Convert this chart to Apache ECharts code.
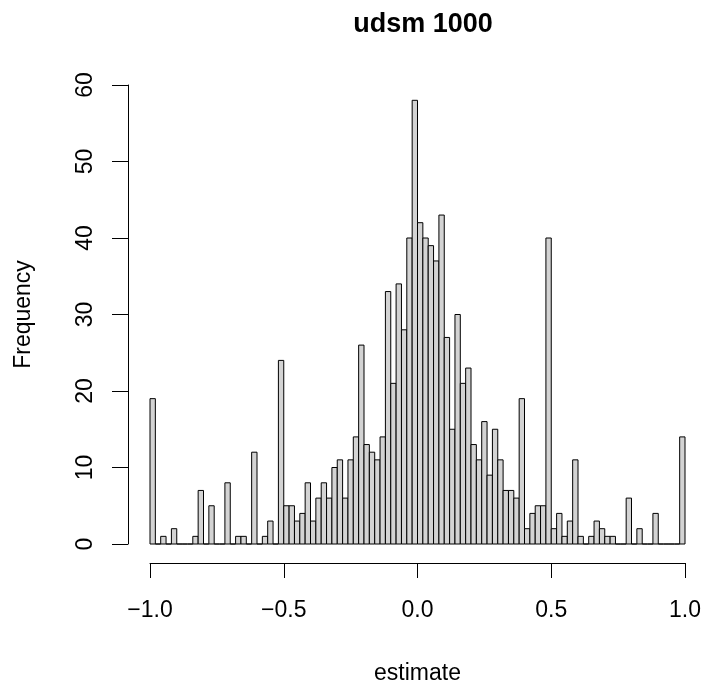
<!DOCTYPE html>
<html>
<head>
<meta charset="utf-8">
<script src="https://cdn.jsdelivr.net/npm/echarts@6/dist/echarts.min.js"></script>
<style>html,body{margin:0;padding:0;background:#fff}#c{width:704px;height:690px}</style>
</head>
<body>
<div id="c"></div>
<script>
// Histogram bins: start, width, and counts
const binStart = -1.0;
const binWidth = 0.02;
const counts = [
  19,0,1,0,2,0,0,0,1,7,
  0,5,0,0,8,0,1,1,0,12,
  0,1,3,0,24,5,5,3,4,8,
  3,6,8,6,10,11,6,11,14,26,
  13,12,11,14,33,21,34,28,40,58,
  42,40,39,37,43,27,15,30,21,23,
  13,11,16,9,15,11,7,7,6,19,
  2,4,5,5,40,2,4,1,3,11,
  1,0,1,3,2,1,1,0,0,6,
  0,2,0,0,4,0,0,0,0,14
];
const xTickValues = [-1.0, -0.5, 0.0, 0.5, 1.0];
const xTickLabels = ['\u22121.0', '\u22120.5', '0.0', '0.5', '1.0'];
const yTickValues = [0, 10, 20, 30, 40, 50, 60];
const yTickLabels = ['0', '10', '20', '30', '40', '50', '60'];
const titleText = 'udsm 1000';
const xName = 'estimate';
const yName = 'Frequency';

const data = counts.map((c, i) => [binStart + i * binWidth, binStart + (i + 1) * binWidth, c]);
const FONT = '"Liberation Sans", Arial, Helvetica, sans-serif';

const chart = echarts.init(document.getElementById('c'), null, {renderer: 'canvas'});
chart.setOption({
  animation: false,
  backgroundColor: '#ffffff',
  title: {
    text: titleText,
    left: 418,
    top: 6,
    textAlign: 'center',
    textStyle: {fontFamily: FONT, fontSize: 27, fontWeight: 'bold', color: '#000'}
  },
  grid: {left: 150, right: 17, top: 85, bottom: 140, containLabel: false},
  xAxis: {
    type: 'value',
    min: -1.0, max: 1.0, interval: 0.5,
    offset: 19,
    name: xName,
    nameLocation: 'middle',
    nameGap: 99,
    nameTextStyle: {fontFamily: FONT, fontSize: 23, color: '#000'},
    axisLine: {show: true, onZero: false, lineStyle: {color: '#000', width: 1}},
    axisTick: {show: true, length: 15, inside: false, lineStyle: {color: '#000', width: 1}},
    axisLabel: {
      margin: 36, fontFamily: FONT, fontSize: 23, color: '#000',
      formatter: v => { const k = xTickValues.findIndex(t => Math.abs(t - v) < 1e-9); return k >= 0 ? xTickLabels[k] : ''; }
    },
    splitLine: {show: false}
  },
  yAxis: {
    type: 'value',
    min: 0, max: 60, interval: 10,
    offset: 22,
    name: yName,
    nameLocation: 'middle',
    nameRotate: 90,
    nameGap: 93,
    nameTextStyle: {fontFamily: FONT, fontSize: 23, color: '#000'},
    axisLine: {show: true, onZero: false, lineStyle: {color: '#000', width: 1}},
    axisTick: {show: true, length: 16, inside: false, lineStyle: {color: '#000', width: 1}},
    axisLabel: {
      rotate: 90, margin: 31, fontFamily: FONT, fontSize: 23, color: '#000',
      formatter: v => { const k = yTickValues.indexOf(v); return k >= 0 ? yTickLabels[k] : ''; }
    },
    splitLine: {show: false}
  },
  series: [{
    type: 'custom',
    clip: false,
    encode: {x: [0, 1], y: 2},
    data: data,
    renderItem: function (params, api) {
      const lo = api.value(0), hi = api.value(1), c = api.value(2);
      const p0 = api.coord([lo, 0]);
      const p1 = api.coord([hi, c]);
      return {
        type: 'rect',
        shape: {x: p0[0], y: p1[1], width: p1[0] - p0[0], height: p0[1] - p1[1]},
        style: {fill: '#d3d3d3', stroke: '#000000', lineWidth: 1}
      };
    }
  }]
});
</script>
</body>
</html>
